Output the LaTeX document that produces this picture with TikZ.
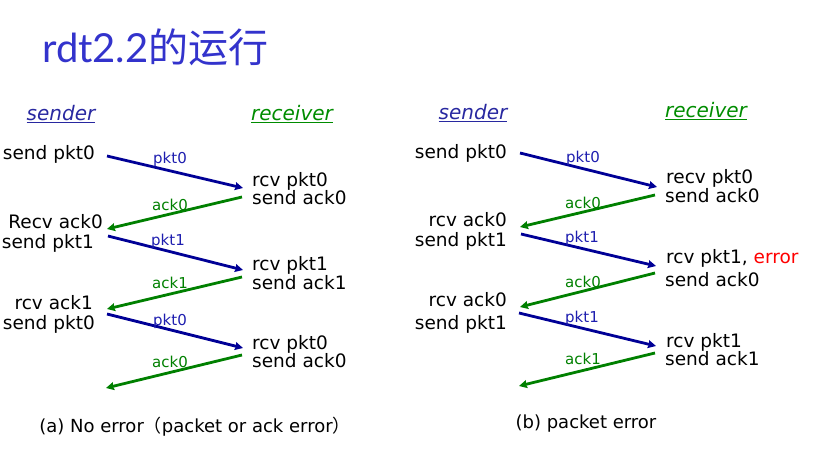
\documentclass[tikz,border=0pt]{standalone}
\usepackage{fontspec}
\setmainfont{DejaVu Sans}
\newfontfamily\cjk{Noto Sans CJK SC}
\newfontfamily\titlefont{Lato}
\usetikzlibrary{arrows.meta}

\definecolor{titleblue}{RGB}{51,51,204}
\definecolor{senderblue}{RGB}{40,40,160}
\definecolor{recvgreen}{RGB}{0,140,0}
\definecolor{pktblue}{RGB}{0,0,150}
\definecolor{pktlabel}{RGB}{30,30,175}
\definecolor{ackgreen}{RGB}{0,128,0}

\tikzset{
  txt/.style={inner sep=0pt, yshift=-2.5pt, font=\fontsize{18.5}{22}\selectfont, text height=13pt, text depth=4pt},
  msg/.style={inner sep=0pt, yshift=-2pt, font=\fontsize{15}{18}\selectfont, text height=11pt, text depth=3.5pt},
  role/.style={inner sep=0pt, yshift=-2.5pt, font=\fontsize{20}{24}\selectfont\itshape, text height=14pt, text depth=4.5pt},
  captxt/.style={inner sep=0pt, yshift=-2pt, font=\fontsize{18}{22}\selectfont},
  pkt/.style={-{Stealth[length=8pt,width=8pt,inset=1pt]}, line width=2.8pt, draw=pktblue},
  ack/.style={-{Stealth[length=8pt,width=8pt,inset=1pt]}, line width=2.8pt, draw=ackgreen},
}

\begin{document}
\begin{tikzpicture}[x=1pt, y=-1pt]
    \useasboundingbox (0,0) rectangle (823,476);

    % title
    \node[inner sep=0pt, anchor=west, text=titleblue, font=\fontsize{40}{44}\selectfont] (title) at (42,47)
        {\titlefont rdt2.2\cjk 的运行};

    % (a) no error
    \node[role, text=senderblue] (lsnd) at (61,113) {\underline{sender}};
    \node[role, text=recvgreen] (lrcv) at (292,113) {\underline{receiver}};

    \node[txt, anchor=east] (ls1) at (95,153) {send pkt0};
    \node[txt, anchor=east] (ls2) at (103,222) {Recv ack0};
    \node[txt, anchor=east] (ls3) at (94,242) {send pkt1};
    \node[txt, anchor=east] (ls4) at (93,302) {rcv ack1};
    \node[txt, anchor=east] (ls5) at (95,322) {send pkt0};

    \node[txt, anchor=west] (lr1) at (252,180) {rcv pkt0};
    \node[txt, anchor=west] (lr2) at (252,198) {send ack0};
    \node[txt, anchor=west] (lr3) at (252,263) {rcv pkt1};
    \node[txt, anchor=west] (lr4) at (252,283) {send ack1};
    \node[txt, anchor=west] (lr5) at (252,342) {rcv pkt0};
    \node[txt, anchor=west] (lr6) at (252,360) {send ack0};

    \coordinate (L1s) at (107,156); \coordinate (L1r) at (243,188);
    \coordinate (L2r) at (242,197); \coordinate (L2s) at (107,229);
    \coordinate (L3s) at (108,236); \coordinate (L3r) at (243,270);
    \coordinate (L4r) at (242,277); \coordinate (L4s) at (107,309);
    \coordinate (L5s) at (107,314); \coordinate (L5r) at (243,348);
    \coordinate (L6r) at (242,355); \coordinate (L6s) at (106,388);

    \draw[pkt] (L1s) -- (L1r);
    \draw[ack] (L2r) -- (L2s);
    \draw[pkt] (L3s) -- (L3r);
    \draw[ack] (L4r) -- (L4s);
    \draw[pkt] (L5s) -- (L5r);
    \draw[ack] (L6r) -- (L6s);

    \node[msg, text=pktlabel] (lm1) at (170,158) {pkt0};
    \node[msg, text=ackgreen] (lm2) at (170,205) {ack0};
    \node[msg, text=pktlabel] (lm3) at (168,240) {pkt1};
    \node[msg, text=ackgreen] (lm4) at (170,283) {ack1};
    \node[msg, text=pktlabel] (lm5) at (170,320) {pkt0};
    \node[msg, text=ackgreen] (lm6) at (170,362) {ack0};

    \node[captxt] (capa) at (195,425) {(a) No error{\cjk （}packet or ack error{\cjk ）}};

    % (b) packet error
    \node[role, text=senderblue] (rsnd) at (473,112) {\underline{sender}};
    \node[role, text=recvgreen] (rrcv) at (706,110) {\underline{receiver}};

    \node[txt, anchor=east] (rs1) at (507,152) {send pkt0};
    \node[txt, anchor=east] (rs2) at (507,220) {rcv ack0};
    \node[txt, anchor=east] (rs3) at (507,240) {send pkt1};
    \node[txt, anchor=east] (rs4) at (507,299) {rcv ack0};
    \node[txt, anchor=east] (rs5) at (507,322) {send pkt1};

    \node[txt, anchor=west] (rr1) at (666,177) {recv pkt0};
    \node[txt, anchor=west] (rr2) at (665,196) {send ack0};
    \node[txt, anchor=west] (rr3) at (666,256) {rcv pkt1, \textcolor{red}{error}};
    \node[txt, anchor=west] (rr4) at (665,280) {send ack0};
    \node[txt, anchor=west] (rr5) at (666,340) {rcv pkt1};
    \node[txt, anchor=west] (rr6) at (665,358) {send ack1};

    \coordinate (R1s) at (520,153); \coordinate (R1r) at (657,187);
    \coordinate (R2r) at (655,195); \coordinate (R2s) at (520,227);
    \coordinate (R3s) at (521,234); \coordinate (R3r) at (656,266);
    \coordinate (R4r) at (655,273); \coordinate (R4s) at (520,307);
    \coordinate (R5s) at (519,313); \coordinate (R5r) at (656,346);
    \coordinate (R6r) at (655,353); \coordinate (R6s) at (519,386);

    \draw[pkt] (R1s) -- (R1r);
    \draw[ack] (R2r) -- (R2s);
    \draw[pkt] (R3s) -- (R3r);
    \draw[ack] (R4r) -- (R4s);
    \draw[pkt] (R5s) -- (R5r);
    \draw[ack] (R6r) -- (R6s);

    \node[msg, text=pktlabel] (rm1) at (583,157) {pkt0};
    \node[msg, text=ackgreen] (rm2) at (583,203) {ack0};
    \node[msg, text=pktlabel] (rm3) at (582,237) {pkt1};
    \node[msg, text=ackgreen] (rm4) at (583,282) {ack0};
    \node[msg, text=pktlabel] (rm5) at (582,317) {pkt1};
    \node[msg, text=ackgreen] (rm6) at (583,359) {ack1};

    \node[captxt] (capb) at (586,422) {(b) packet error};

\end{tikzpicture}
\end{document}
